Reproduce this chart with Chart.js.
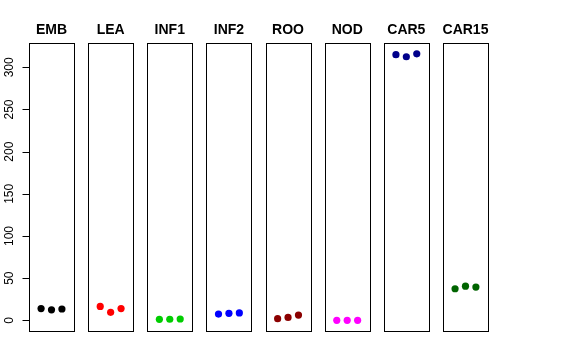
<!DOCTYPE html>
<html>
<head>
<meta charset="utf-8">
<script src="https://cdn.jsdelivr.net/npm/chart.js@4/dist/chart.umd.min.js"></script>
<style>
  html, body { margin: 0; padding: 0; background: #fff; }
  #wrap { position: relative; width: 576px; height: 360px; }
  #wrap canvas { position: absolute; left: 0; top: 0; }
</style>
</head>
<body>
<div id="wrap"></div>
<script>
// ---- data ----
const categories = ["EMB", "LEA", "INF1", "INF2", "ROO", "NOD", "CAR5", "CAR15"];
const replicates = [1, 2, 3];
const EMB   = [14, 12.5, 13.5];
const LEA   = [16.5, 9.5, 14];
const INF1  = [1.2, 1.3, 1.6];
const INF2  = [7.5, 8.3, 8.8];
const ROO   = [2, 3.5, 6.3];
const NOD   = [0, 0, 0];
const CAR5  = [315, 312.5, 316];
const CAR15 = [37.5, 40.5, 39.5];
const seriesValues = [EMB, LEA, INF1, INF2, ROO, NOD, CAR5, CAR15];
const yTickValues = [0, 50, 100, 150, 200, 250, 300];

// ---- style ----
const colors = ["#000000", "#FF0000", "#00CD00", "#0000FF", "#8B0000", "#FF00FF", "#00008B", "#006400"];
const W = 576, H = 360;
const firstLeft = 29, step = 59.14, boxW = 45;
const areaTop = 43, areaBottom = 331;
const yMin = -12.6, yMax = 328.8;
const xMin = -0.16, xMax = 4.16;

const panelPlugin = {
  id: 'panel',
  afterDraw(chart, args, opts) {
    const ctx = chart.ctx;
    const a = chart.chartArea;
    ctx.save();
    // box
    ctx.strokeStyle = '#000';
    ctx.lineWidth = 1;
    const l = Math.round(a.left) + 0.5, r = Math.round(a.right) + 0.5;
    const t = Math.round(a.top) + 0.5, b = Math.round(a.bottom) + 0.5;
    ctx.strokeRect(l, t, r - l, b - t);
    // title
    ctx.fillStyle = '#000';
    ctx.font = 'bold 14px "Liberation Sans", Arial, sans-serif';
    ctx.textAlign = 'center';
    ctx.textBaseline = 'alphabetic';
    ctx.fillText(opts.label, (a.left + a.right) / 2, 34);
    // y axis (first panel only)
    if (opts.yaxis) {
      const ys = chart.scales.y;
      const x0 = l;
      ctx.beginPath();
      ctx.moveTo(x0, Math.round(ys.getPixelForValue(yTickValues[0])) + 0.5);
      ctx.lineTo(x0, Math.round(ys.getPixelForValue(yTickValues[yTickValues.length - 1])) + 0.5);
      yTickValues.forEach(v => {
        const py = Math.round(ys.getPixelForValue(v)) + 0.5;
        ctx.moveTo(x0, py);
        ctx.lineTo(x0 - 7, py);
      });
      ctx.stroke();
      ctx.font = '12px "Liberation Sans", Arial, sans-serif';
      ctx.textAlign = 'center';
      ctx.textBaseline = 'middle';
      yTickValues.forEach(v => {
        const py = ys.getPixelForValue(v);
        ctx.save();
        ctx.translate(10, py);
        ctx.rotate(-Math.PI / 2);
        ctx.fillText(String(v), 0, 0);
        ctx.restore();
      });
    }
    ctx.restore();
  }
};

const wrap = document.getElementById('wrap');
categories.forEach((cat, i) => {
  const cv = document.createElement('canvas');
  cv.width = W; cv.height = H;
  cv.style.width = W + 'px'; cv.style.height = H + 'px';
  wrap.appendChild(cv);
  const left = firstLeft + i * step;
  const right = left + boxW;
  new Chart(cv, {
    type: 'scatter',
    data: {
      datasets: [{
        data: replicates.map((x, k) => ({ x: x, y: seriesValues[i][k] })),
        backgroundColor: colors[i],
        borderColor: colors[i],
        borderWidth: 0,
        pointRadius: 3.6,
        pointHoverRadius: 3.6
      }]
    },
    options: {
      responsive: false,
      animation: false,
      events: [],
      layout: { padding: { left: left, right: W - right, top: areaTop, bottom: H - areaBottom } },
      plugins: {
        legend: { display: false },
        tooltip: { enabled: false },
        title: { display: false },
        panel: { label: cat, yaxis: i === 0 }
      },
      scales: {
        x: { type: 'linear', min: xMin, max: xMax, display: false },
        y: { type: 'linear', min: yMin, max: yMax, display: false }
      }
    },
    plugins: [panelPlugin]
  });
});
</script>
</body>
</html>
